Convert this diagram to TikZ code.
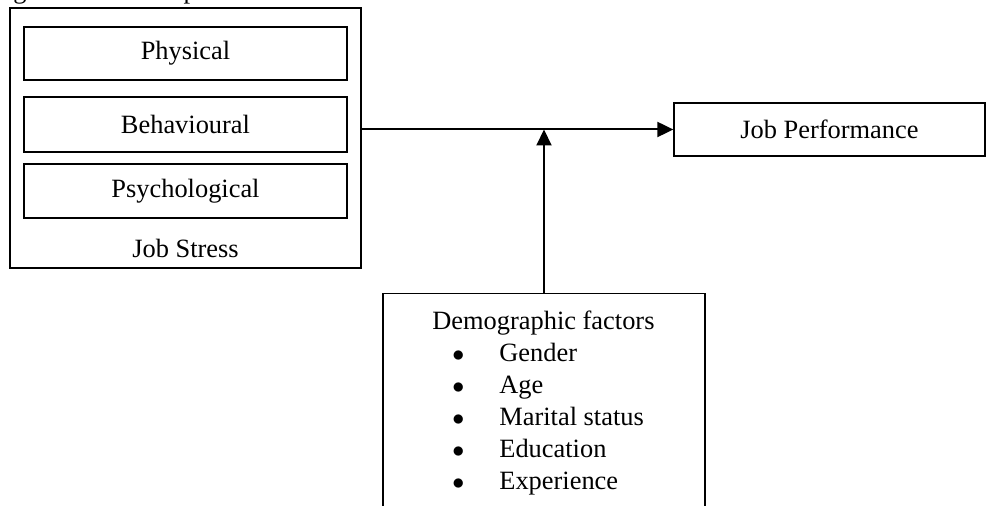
\documentclass[tikz,border=0pt]{standalone}
\usepackage{fontspec}
\setmainfont{Liberation Serif}
\usepackage{tikz}
\usetikzlibrary{positioning,arrows.meta}

\newcommand{\demoitem}[1]{\hspace*{10pt}\makebox[23.5pt][l]{$\bullet$}#1}

\begin{document}
\begin{tikzpicture}[x=0.5pt,y=-0.5pt,
  font=\fontsize{13.2}{16}\selectfont,
  box/.style={draw, line width=0.65pt, inner sep=0pt},
  link/.style={line width=1pt, -{Triangle[length=8pt,width=7.5pt]}}]
\useasboundingbox (0,0) rectangle (986,506);

% Title (cut off at the top edge)
\node[anchor=base west, inner sep=0pt] (title) at (-9,-1) {Figure 3.1: Conceptual Framework};

% Job stress and its three dimensions
\node[box, minimum width=175.5pt, minimum height=130pt] (stress) at (185.5,138) {};
\node[box, minimum width=161.5pt, minimum height=26.5pt] (physical) at (185.5,53.5) {Physical};
\node[box, minimum width=161.5pt, minimum height=27.5pt] (behavioural) at (185.5,124.5) {Behavioural};
\node[box, minimum width=161.5pt, minimum height=27pt] (psychological) at (185.5,191) {Psychological};
\node (stresslabel) at (185.5,248) {Job Stress};

% Outcome
\node[box, minimum width=155.5pt, minimum height=26.5pt] (perf) at (829.5,129.5) {Job Performance};

% Moderator (runs past the bottom edge)
\node[box, anchor=north, minimum width=161pt, minimum height=118pt] (demo) at (544,293) {};
\node[anchor=north west, inner sep=0pt, align=left] (demolist) at (432,311)
  {Demographic factors\\ \demoitem{Gender}\\ \demoitem{Age}\\
   \demoitem{Marital status}\\ \demoitem{Education}\\ \demoitem{Experience}};

% Arrows
\coordinate (meet) at (demo.north |- perf.west);
\draw[link] (stress.east |- perf.west) -- (perf.west);
\draw[link] (demo.north) -- (meet);
\end{tikzpicture}
\end{document}
